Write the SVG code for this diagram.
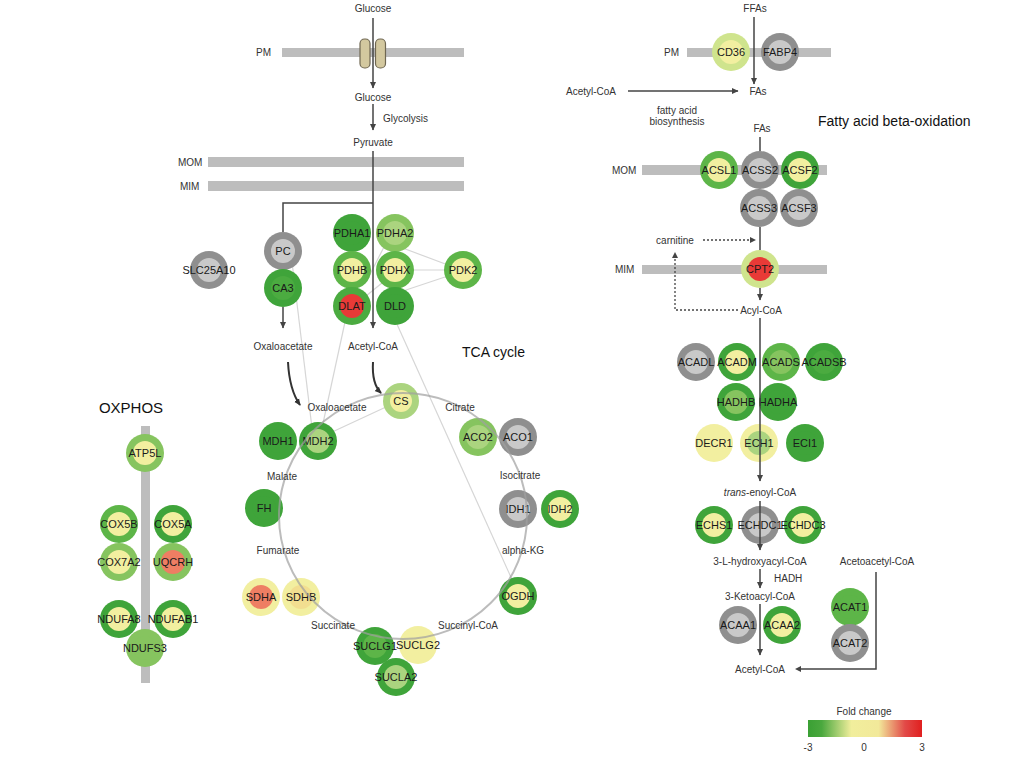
<svg xmlns="http://www.w3.org/2000/svg" width="1023" height="765" viewBox="0 0 1023 765">
<style>
.bg{fill:#ffffff}
.mem{fill:#bdbdbd}
.gy{fill:#8f8f8f}.gyi{fill:#c9c9c9}
.g1{fill:#3fa43a}.g1b{fill:#4bab40}.g2{fill:#5db548}.g3{fill:#86c45f}.g4{fill:#abd47f}.g5{fill:#cfe48d}
.y{fill:#f2efa0}.y2{fill:#f2de90}.r{fill:#e83a37}.or{fill:#ee7e63}
text{font-family:"Liberation Sans",Arial,sans-serif}
.lbl{font-size:11px;fill:#1a1a1a;text-anchor:middle}
.met{font-size:10px;fill:#333;text-anchor:middle}
.metl{font-size:10px;fill:#333;text-anchor:start}
.ttl{font-size:14px;fill:#111}
.ln{stroke:#444;stroke-width:1.5;fill:none}
.arr{stroke:#444;stroke-width:1.5;fill:none;marker-end:url(#ah)}
.dot{stroke:#444;stroke-width:1.3;fill:none;stroke-dasharray:2,2}
.ppi{stroke:#d6d6d6;stroke-width:1.2;fill:none}
.tca{stroke:#a0a0a0;stroke-width:2;fill:none;opacity:0.7}
.curv{stroke:#333;stroke-width:2;fill:none;marker-end:url(#ah2)}
</style>
<defs>
<marker id="ah" markerWidth="7" markerHeight="7" refX="6" refY="3.5" orient="auto" markerUnits="userSpaceOnUse"><path d="M0,0.5 L6.5,3.5 L0,6.5 z" fill="#444"/></marker>
<marker id="ah2" markerWidth="8" markerHeight="8" refX="6" refY="4" orient="auto" markerUnits="userSpaceOnUse"><path d="M0,1 L7,4 L0,7 z" fill="#333"/></marker>
<linearGradient id="fc" x1="0" y1="0" x2="1" y2="0">
<stop offset="0" stop-color="#3aa034"/>
<stop offset="0.12" stop-color="#4aa83e"/>
<stop offset="0.38" stop-color="#f1ee9c"/>
<stop offset="0.62" stop-color="#f2e99a"/>
<stop offset="0.85" stop-color="#e24a48"/>
<stop offset="1" stop-color="#e01f1f"/>
</linearGradient>
</defs>
<rect class="bg" x="0" y="0" width="1023" height="765"/>

<!-- membranes -->
<g id="membranes">
<rect class="mem" x="282" y="48" width="182" height="9"/>
<rect class="mem" x="208" y="157" width="256" height="10"/>
<rect class="mem" x="208" y="181" width="256" height="10"/>
<rect class="mem" x="141" y="426" width="9" height="257"/>
<rect class="mem" x="687" y="48" width="144" height="9"/>
<rect class="mem" x="642" y="165" width="185" height="10"/>
<rect class="mem" x="642" y="265" width="185" height="9"/>
<text class="metl" x="256" y="56">PM</text>
<text class="metl" x="178" y="166">MOM</text>
<text class="metl" x="180" y="190">MIM</text>
<text class="metl" x="664" y="56">PM</text>
<text class="metl" x="612" y="174">MOM</text>
<text class="metl" x="615" y="273">MIM</text>
</g>

<g id="transporter">
<rect x="360" y="39" width="10" height="29" rx="4.5" fill="#d3c89f" stroke="#6f6752" stroke-width="1.2"/>
<rect x="375.5" y="39" width="10" height="29" rx="4.5" fill="#d3c89f" stroke="#6f6752" stroke-width="1.2"/>
</g>

<!-- background interaction lines -->
<g id="interactions">
<line class="ppi" x1="292" y1="262" x2="312" y2="428"/>
<line class="ppi" x1="345" y1="322" x2="322" y2="428"/>
<line class="ppi" x1="330" y1="433" x2="386" y2="407"/>
<line class="ppi" x1="396" y1="322" x2="514" y2="584"/>
<line class="ppi" x1="400" y1="247" x2="448" y2="265"/>
<line class="ppi" x1="412" y1="270" x2="446" y2="270"/>
<line class="ppi" x1="400" y1="292" x2="448" y2="276"/>
<line class="ppi" x1="366" y1="282" x2="384" y2="247"/>
<line class="ppi" x1="366" y1="296" x2="382" y2="283"/>
</g>

<!-- nodes -->
<g id="n-SLC25A10"><circle class="gy" cx="209" cy="270" r="19"/><circle class="gyi" cx="209" cy="270" r="12"/><text class="lbl" x="209" y="274">SLC25A10</text></g>
<g id="n-PC"><circle class="gy" cx="283" cy="251" r="19"/><circle class="gyi" cx="283" cy="251" r="12"/><text class="lbl" x="283" y="255">PC</text></g>
<g id="n-CA3"><circle class="g1" cx="283" cy="288" r="19"/><circle class="g1b" cx="283" cy="288" r="12"/><text class="lbl" x="283" y="292">CA3</text></g>
<g id="n-PDHA1"><circle class="g1" cx="352" cy="233" r="19"/><circle class="g1" cx="352" cy="233" r="12"/><text class="lbl" x="352" y="237">PDHA1</text></g>
<g id="n-PDHA2"><circle class="g3" cx="395" cy="233" r="19"/><circle class="g4" cx="395" cy="233" r="12"/><text class="lbl" x="395" y="237">PDHA2</text></g>
<g id="n-PDHB"><circle class="g2" cx="352" cy="270" r="19"/><circle class="y" cx="352" cy="270" r="12"/><text class="lbl" x="352" y="274">PDHB</text></g>
<g id="n-PDHX"><circle class="g2" cx="395" cy="270" r="19"/><circle class="y" cx="395" cy="270" r="12"/><text class="lbl" x="395" y="274">PDHX</text></g>
<g id="n-PDK2"><circle class="g2" cx="463" cy="270" r="19"/><circle class="y" cx="463" cy="270" r="12"/><text class="lbl" x="463" y="274">PDK2</text></g>
<g id="n-DLAT"><circle class="g1b" cx="352" cy="306" r="19"/><circle class="r" cx="352" cy="306" r="12"/><text class="lbl" x="352" y="310">DLAT</text></g>
<g id="n-DLD"><circle class="g1" cx="395" cy="306" r="19"/><circle class="g1" cx="395" cy="306" r="12"/><text class="lbl" x="395" y="310">DLD</text></g>

<g id="n-CS"><circle class="g4" cx="401" cy="401" r="18"/><circle class="y" cx="401" cy="401" r="11"/><text class="lbl" x="401" y="405">CS</text></g>
<g id="n-MDH1"><circle class="g1" cx="278" cy="441" r="19"/><circle class="g1" cx="278" cy="441" r="12"/><text class="lbl" x="278" y="445">MDH1</text></g>
<g id="n-MDH2"><circle class="g1" cx="318" cy="441" r="19"/><circle class="g4" cx="318" cy="441" r="12"/><text class="lbl" x="318" y="445">MDH2</text></g>
<g id="n-FH"><circle class="g1" cx="264" cy="508" r="19"/><circle class="g1" cx="264" cy="508" r="12"/><text class="lbl" x="264" y="512">FH</text></g>
<g id="n-SDHA"><circle class="y" cx="261" cy="597" r="19"/><circle class="or" cx="261" cy="597" r="12"/><text class="lbl" x="261" y="601">SDHA</text></g>
<g id="n-SDHB"><circle class="y" cx="301" cy="597" r="19"/><circle class="y2" cx="301" cy="597" r="12"/><text class="lbl" x="301" y="601">SDHB</text></g>
<g id="n-SUCLG1"><circle class="g1" cx="375" cy="646" r="19"/><circle class="g2" cx="375" cy="646" r="12"/><text class="lbl" x="375" y="650">SUCLG1</text></g>
<g id="n-SUCLG2"><circle class="y" cx="418" cy="645" r="19"/><circle class="y" cx="418" cy="645" r="12"/><text class="lbl" x="418" y="649">SUCLG2</text></g>
<g id="n-SUCLA2"><circle class="g1" cx="396" cy="677" r="19"/><circle class="g4" cx="396" cy="677" r="12"/><text class="lbl" x="396" y="681">SUCLA2</text></g>
<g id="n-OGDH"><circle class="g1" cx="518" cy="596" r="19"/><circle class="y" cx="518" cy="596" r="12"/><text class="lbl" x="518" y="600">OGDH</text></g>
<g id="n-IDH1"><circle class="gy" cx="518" cy="509" r="19"/><circle class="gyi" cx="518" cy="509" r="12"/><text class="lbl" x="518" y="513">IDH1</text></g>
<g id="n-IDH2"><circle class="g1" cx="560" cy="509" r="19"/><circle class="y" cx="560" cy="509" r="12"/><text class="lbl" x="560" y="513">IDH2</text></g>
<g id="n-ACO2"><circle class="g3" cx="478" cy="437" r="19"/><circle class="g4" cx="478" cy="437" r="12"/><text class="lbl" x="478" y="441">ACO2</text></g>
<g id="n-ACO1"><circle class="gy" cx="518" cy="437" r="19"/><circle class="gyi" cx="518" cy="437" r="12"/><text class="lbl" x="518" y="441">ACO1</text></g>

<g id="n-ATP5L"><circle class="g3" cx="145" cy="453" r="19"/><circle class="y" cx="145" cy="453" r="12"/><text class="lbl" x="145" y="457">ATP5L</text></g>
<g id="n-COX5B"><circle class="g2" cx="119" cy="524" r="19"/><circle class="y" cx="119" cy="524" r="12"/><text class="lbl" x="119" y="528">COX5B</text></g>
<g id="n-COX5A"><circle class="g1" cx="173" cy="524" r="19"/><circle class="y" cx="173" cy="524" r="12"/><text class="lbl" x="173" y="528">COX5A</text></g>
<g id="n-COX7A2"><circle class="g3" cx="119" cy="562" r="19"/><circle class="y" cx="119" cy="562" r="12"/><text class="lbl" x="119" y="566">COX7A2</text></g>
<g id="n-UQCRH"><circle class="g3" cx="173" cy="562" r="19"/><circle class="or" cx="173" cy="562" r="12"/><text class="lbl" x="173" y="566">UQCRH</text></g>
<g id="n-NDUFA8"><circle class="g1" cx="119" cy="619" r="19"/><circle class="y" cx="119" cy="619" r="12"/><text class="lbl" x="119" y="623">NDUFA8</text></g>
<g id="n-NDUFAB1"><circle class="g1" cx="173" cy="619" r="19"/><circle class="y" cx="173" cy="619" r="12"/><text class="lbl" x="173" y="623">NDUFAB1</text></g>
<g id="n-NDUFS3"><circle class="g3" cx="145" cy="648" r="19"/><circle class="g3" cx="145" cy="648" r="12"/><text class="lbl" x="145" y="652">NDUFS3</text></g>

<g id="n-CD36"><circle class="g5" cx="731" cy="52" r="19"/><circle class="y" cx="731" cy="52" r="12"/><text class="lbl" x="731" y="56">CD36</text></g>
<g id="n-FABP4"><circle class="gy" cx="780" cy="52" r="19"/><circle class="gyi" cx="780" cy="52" r="12"/><text class="lbl" x="780" y="56">FABP4</text></g>
<g id="n-ACSL1"><circle class="g2" cx="719" cy="170" r="19"/><circle class="y" cx="719" cy="170" r="12"/><text class="lbl" x="719" y="174">ACSL1</text></g>
<g id="n-ACSS2"><circle class="gy" cx="760" cy="170" r="19"/><circle class="gyi" cx="760" cy="170" r="12"/><text class="lbl" x="760" y="174">ACSS2</text></g>
<g id="n-ACSF2"><circle class="g1" cx="800" cy="170" r="19"/><circle class="y" cx="800" cy="170" r="12"/><text class="lbl" x="800" y="174">ACSF2</text></g>
<g id="n-ACSS3"><circle class="gy" cx="759" cy="208" r="19"/><circle class="gyi" cx="759" cy="208" r="12"/><text class="lbl" x="759" y="212">ACSS3</text></g>
<g id="n-ACSF3"><circle class="gy" cx="799" cy="208" r="19"/><circle class="gyi" cx="799" cy="208" r="12"/><text class="lbl" x="799" y="212">ACSF3</text></g>
<g id="n-CPT2"><circle class="g5" cx="760" cy="269" r="19"/><circle class="r" cx="760" cy="269" r="12"/><text class="lbl" x="760" y="273">CPT2</text></g>

<g id="n-ACADL"><circle class="gy" cx="696" cy="362" r="19"/><circle class="gyi" cx="696" cy="362" r="12"/><text class="lbl" x="696" y="366">ACADL</text></g>
<g id="n-ACADM"><circle class="g1" cx="737" cy="362" r="19"/><circle class="y" cx="737" cy="362" r="12"/><text class="lbl" x="737" y="366">ACADM</text></g>
<g id="n-ACADS"><circle class="g2" cx="781" cy="362" r="19"/><circle class="g3" cx="781" cy="362" r="12"/><text class="lbl" x="781" y="366">ACADS</text></g>
<g id="n-ACADSB"><circle class="g1" cx="824" cy="362" r="19"/><circle class="g1b" cx="824" cy="362" r="12"/><text class="lbl" x="824" y="366">ACADSB</text></g>
<g id="n-HADHB"><circle class="g1" cx="736" cy="402" r="19"/><circle class="g3" cx="736" cy="402" r="12"/><text class="lbl" x="736" y="406">HADHB</text></g>
<g id="n-HADHA"><circle class="g1" cx="778" cy="402" r="19"/><circle class="g1" cx="778" cy="402" r="12"/><text class="lbl" x="778" y="406">HADHA</text></g>
<g id="n-DECR1"><circle class="y" cx="714" cy="443" r="19"/><circle class="y" cx="714" cy="443" r="12"/><text class="lbl" x="714" y="447">DECR1</text></g>
<g id="n-ECH1"><circle class="y" cx="759" cy="443" r="19"/><circle class="g4" cx="759" cy="443" r="12"/><text class="lbl" x="759" y="447">ECH1</text></g>
<g id="n-ECI1"><circle class="g1" cx="805" cy="443" r="19"/><circle class="g1" cx="805" cy="443" r="12"/><text class="lbl" x="805" y="447">ECI1</text></g>
<g id="n-ECHS1"><circle class="g1" cx="714" cy="525" r="19"/><circle class="y" cx="714" cy="525" r="12"/><text class="lbl" x="714" y="529">ECHS1</text></g>
<g id="n-ECHDC1"><circle class="gy" cx="760" cy="525" r="19"/><circle class="gyi" cx="760" cy="525" r="12"/><text class="lbl" x="760" y="529">ECHDC1</text></g>
<g id="n-ECHDC3"><circle class="g1" cx="803" cy="525" r="19"/><circle class="y" cx="803" cy="525" r="12"/><text class="lbl" x="803" y="529">ECHDC3</text></g>
<g id="n-ACAA1"><circle class="gy" cx="738" cy="625" r="19"/><circle class="gyi" cx="738" cy="625" r="12"/><text class="lbl" x="738" y="629">ACAA1</text></g>
<g id="n-ACAA2"><circle class="g1" cx="782" cy="625" r="19"/><circle class="y" cx="782" cy="625" r="12"/><text class="lbl" x="782" y="629">ACAA2</text></g>
<g id="n-ACAT1"><circle class="g2" cx="850" cy="607" r="19"/><circle class="g2" cx="850" cy="607" r="12"/><text class="lbl" x="850" y="611">ACAT1</text></g>
<g id="n-ACAT2"><circle class="gy" cx="850" cy="643" r="19"/><circle class="gyi" cx="850" cy="643" r="12"/><text class="lbl" x="850" y="647">ACAT2</text></g>

<!-- connectors -->
<g id="connectors">
<ellipse class="tca" cx="403" cy="516" rx="124" ry="123"/>
<line class="arr" x1="373" y1="18" x2="373" y2="88"/>
<line class="arr" x1="373" y1="104" x2="373" y2="130"/>
<line class="arr" x1="373" y1="151" x2="373" y2="328"/>
<polyline class="ln" points="373,203 283,203 283,232"/>
<line class="arr" x1="283" y1="307" x2="283" y2="328"/>
<path class="curv" d="M288,362 C289,382 293,395 300,405"/>
<path class="curv" d="M373,362 C372,378 375,387 381,393"/>
<line class="arr" x1="754" y1="17" x2="754" y2="84"/>
<line class="arr" x1="628" y1="91" x2="738" y2="91"/>
<line class="ln" x1="760" y1="137" x2="760" y2="151"/>
<line class="ln" x1="760" y1="227" x2="760" y2="250"/>
<line class="arr" x1="760" y1="288" x2="760" y2="300"/>
<line class="dot" x1="703" y1="240" x2="750" y2="240"/>
<path d="M750,237 L756,240 L750,243 z" fill="#444"/>
<polyline class="dot" points="738,310 675,310 675,258"/>
<path d="M672,258 L675,252 L678,258 z" fill="#444"/>
<line class="arr" x1="760" y1="318" x2="760" y2="481"/>
<line class="arr" x1="760" y1="501" x2="760" y2="550"/>
<line class="arr" x1="760" y1="569" x2="760" y2="588"/>
<line class="arr" x1="760" y1="604" x2="760" y2="655"/>
<polyline class="ln" points="876,572 876,669 800,669"/>
<path d="M801,666 L795,669 L801,672 z" fill="#444"/>
</g>

<!-- metabolite labels -->
<g id="labels">
<text class="met" x="373" y="12">Glucose</text>
<text class="met" x="373" y="101">Glucose</text>
<text class="metl" x="383" y="122">Glycolysis</text>
<text class="met" x="373" y="146">Pyruvate</text>
<text class="met" x="283" y="350">Oxaloacetate</text>
<text class="met" x="373" y="350">Acetyl-CoA</text>
<text class="ttl" x="462" y="357">TCA cycle</text>
<text class="met" x="337" y="411">Oxaloacetate</text>
<text class="met" x="460" y="411">Citrate</text>
<text class="met" x="282" y="480">Malate</text>
<text class="met" x="520" y="479">Isocitrate</text>
<text class="met" x="278" y="554">Fumarate</text>
<text class="met" x="523" y="554">alpha-KG</text>
<text class="met" x="333" y="629">Succinate</text>
<text class="met" x="468" y="629">Succinyl-CoA</text>
<text class="ttl" x="131" y="413" style="text-anchor:middle;font-size:15px">OXPHOS</text>
<text class="met" x="755" y="12">FFAs</text>
<text class="met" x="758" y="95">FAs</text>
<text class="met" x="591" y="95">Acetyl-CoA</text>
<text class="met" x="677" y="114">fatty acid</text>
<text class="met" x="677" y="125">biosynthesis</text>
<text class="met" x="762" y="132">FAs</text>
<text class="ttl" x="818" y="126">Fatty acid beta-oxidation</text>
<text class="met" x="675" y="244">carnitine</text>
<text class="met" x="761" y="314">Acyl-CoA</text>
<text class="met" x="760" y="496"><tspan font-style="italic">trans</tspan>-enoyl-CoA</text>
<text class="met" x="760" y="565">3-L-hydroxyacyl-CoA</text>
<text class="metl" x="774" y="582">HADH</text>
<text class="met" x="760" y="600">3-Ketoacyl-CoA</text>
<text class="met" x="877" y="565">Acetoacetyl-CoA</text>
<text class="met" x="760" y="673">Acetyl-CoA</text>
</g>

<!-- legend -->
<g id="legend">
<text class="met" x="864" y="715">Fold change</text>
<rect x="808" y="720" width="114" height="17" fill="url(#fc)"/>
<text class="met" x="808" y="751">-3</text>
<text class="met" x="864" y="751">0</text>
<text class="met" x="922" y="751">3</text>
</g>
</svg>
